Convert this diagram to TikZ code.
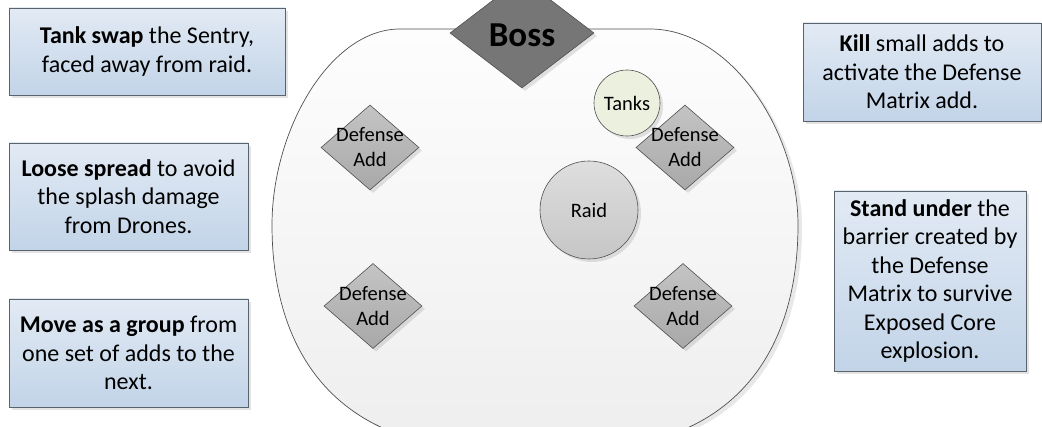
\documentclass[tikz,border=0pt]{standalone}
\usepackage{fontspec}
\setmainfont{Carlito}
\usetikzlibrary{shapes.geometric,shadows}

\definecolor{noteTop}{RGB}{226,234,244}
\definecolor{noteBot}{RGB}{194,212,232}
\definecolor{noteLine}{RGB}{90,98,108}
\definecolor{edgeGray}{RGB}{80,80,80}
\definecolor{arenaTop}{RGB}{253,253,253}
\definecolor{arenaBot}{RGB}{238,238,238}
\definecolor{bossFill}{RGB}{118,118,118}
\definecolor{addTop}{RGB}{196,196,196}
\definecolor{addBot}{RGB}{168,168,168}
\definecolor{raidTop}{RGB}{222,222,222}
\definecolor{raidBot}{RGB}{198,198,198}
\definecolor{tankFill}{RGB}{236,240,222}

\tikzset{
  softshadow/.style={drop shadow={shadow xshift=3pt, shadow yshift=-3pt, opacity=0.18, fill=black!60}},
  note/.style={draw=noteLine, line width=0.8pt, top color=noteTop, bottom color=noteBot,
    align=center, inner sep=0pt, softshadow,
    font=\fontsize{24}{28.5}\selectfont},
  addmark/.style={diamond, draw=edgeGray, line width=0.6pt, top color=addTop, bottom color=addBot,
    inner sep=0pt, minimum width=98pt, minimum height=85pt, softshadow,
    label={[align=center, inner sep=0pt, font=\fontsize{20.5}{25}\selectfont]center:Defense\\Add}},
  disc/.style={circle, draw=edgeGray, line width=0.6pt, inner sep=0pt, softshadow,
    font=\fontsize{20.5}{25}\selectfont},
}

\begin{document}
\begin{tikzpicture}[x=1pt,y=-1pt]
\useasboundingbox (0,0) rectangle (1042,427);

% arena outline
\path[draw=edgeGray, line width=0.7pt, top color=arenaTop, bottom color=arenaBot,
      drop shadow={shadow xshift=4pt, shadow yshift=-3pt, opacity=0.15, fill=black!60}]
  (400,29) -- (650,29)
  .. controls (730,29) and (798,130) .. (798,225)
  .. controls (798,335) and (750,425) .. (630,445)
  -- (440,445)
  .. controls (320,425) and (272,335) .. (272,225)
  .. controls (272,130) and (330,29) .. (400,29) -- cycle;

% boss
\node[diamond, draw=edgeGray, line width=0.6pt, fill=bossFill, inner sep=0pt,
      minimum width=144pt, minimum height=110pt, softshadow] (boss) at (522,33) {};
\node[font=\fontsize{35}{40}\selectfont\bfseries, inner sep=0pt] (bosslabel) at (522,35) {Boss};

% tanks and raid
\node[disc, fill=tankFill, minimum size=66pt] (tanks) at (627,103) {Tanks};
\node[disc, top color=raidTop, bottom color=raidBot, minimum size=98pt] (raid) at (589,210) {Raid};

% defense adds
\node[addmark] (addNW) at (370,147.5) {};
\node[addmark] (addNE) at (685,147.5) {};
\node[addmark] (addSW) at (373,306) {};
\node[addmark] (addSE) at (683,306) {};

% notes
\node[note, minimum width=276pt, minimum height=87pt] (swap) at (147,51.5)
  {\textbf{Tank swap} the Sentry,\\faced away from raid.};
\node[note, minimum width=239pt, minimum height=107pt] (spread) at (128.5,196.5)
  {\textbf{Loose spread} to avoid\\the splash damage\\from Drones.};
\node[note, minimum width=239pt, minimum height=108pt] (group) at (128.5,353)
  {\textbf{Move as a group} from\\one set of adds to the\\next.};
\node[note, minimum width=238pt, minimum height=98pt] (kill) at (922,72)
  {\textbf{Kill} small adds to\\activate the Defense\\Matrix add.};
\node[note, minimum width=192pt, minimum height=180pt] (stand) at (930,281)
  {\textbf{Stand under} the\\barrier created by\\the Defense\\Matrix to survive\\Exposed Core\\explosion.};
\end{tikzpicture}
\end{document}
